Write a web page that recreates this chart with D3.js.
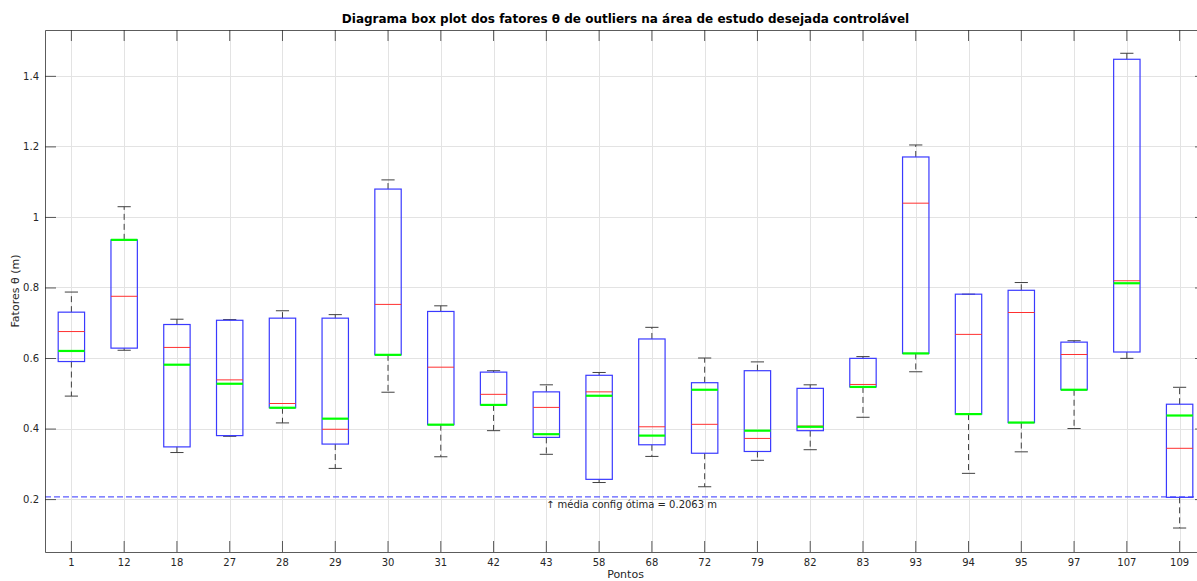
<!DOCTYPE html>
<html>
<head>
<meta charset="utf-8">
<script src="https://cdn.jsdelivr.net/npm/d3@7"></script>
<style>
  html, body { margin: 0; padding: 0; background: #fff; }
  svg { display: block; font-family: "DejaVu Sans", sans-serif; }
</style>
</head>
<body>
<svg id="chart" width="1197" height="581"></svg>
<script>
// Pontos e estatísticas de cada caixa (fatores θ em metros)
const pontos = ["1","12","18","27","28","29","30","31","42","43","58","68","72","79","82","83","93","94","95","97","107","109"];
const limiteInferior = [0.492,0.622,0.332,0.378,0.416,0.287,0.503,0.320,0.394,0.327,0.247,0.321,0.235,0.310,0.340,0.432,0.561,0.273,0.334,0.400,0.599,0.118];
const quartil1       = [0.590,0.628,0.348,0.380,0.459,0.356,0.609,0.411,0.467,0.375,0.256,0.354,0.330,0.335,0.394,0.518,0.613,0.441,0.417,0.510,0.617,0.205];
const mediana        = [0.675,0.775,0.630,0.538,0.471,0.398,0.752,0.574,0.497,0.460,0.504,0.405,0.412,0.372,0.407,0.525,1.039,0.667,0.729,0.610,0.819,0.344];
const configOtima    = [0.620,0.935,0.581,0.527,0.459,0.428,0.609,0.411,0.467,0.384,0.493,0.380,0.510,0.394,0.405,0.518,0.613,0.441,0.417,0.510,0.812,0.437];
const quartil3       = [0.730,0.935,0.695,0.707,0.713,0.713,1.079,0.732,0.560,0.504,0.551,0.654,0.530,0.564,0.514,0.599,1.170,0.781,0.792,0.645,1.447,0.469];
const limiteSuperior = [0.787,1.029,0.710,0.709,0.734,0.723,1.105,0.748,0.564,0.524,0.559,0.687,0.600,0.589,0.524,0.604,1.204,0.781,0.814,0.649,1.464,0.517];
const mediaConfigOtima = 0.2063;
const yTicks = [0.2, 0.4, 0.6, 0.8, 1, 1.2, 1.4];

const titulo = "Diagrama box plot dos fatores θ de outliers na área de estudo desejada controlável";
const rotuloX = "Pontos";
const rotuloY = "Fatores θ (m)";
const anotacao = "↑ média config ótima = " + mediaConfigOtima + " m";

const svg = d3.select("#chart");
const plotLeft = 45, plotRight = 1206, plotTop = 30, plotBottom = 552;
const axisColor = "#262626";
const tickLen = 11;

const x = d3.scaleBand().domain(pontos).range([plotLeft, plotRight]).padding(0);
const cx = p => x(p) + x.bandwidth() / 2;
const y = d3.scaleLinear().domain([0.05, 1.53]).range([plotBottom, plotTop]);

const boxW = x.bandwidth() * 0.5;
const capW = x.bandwidth() * 0.25;

// grade
const grid = svg.append("g").attr("stroke", "#e3e3e3").attr("stroke-width", 1);
grid.selectAll("line.gx").data(pontos).join("line").attr("class", "gx")
  .attr("x1", d => Math.round(cx(d)) + 0.5).attr("x2", d => Math.round(cx(d)) + 0.5)
  .attr("y1", plotTop).attr("y2", plotBottom);
grid.selectAll("line.gy").data(yTicks).join("line").attr("class", "gy")
  .attr("y1", d => Math.round(y(d)) + 0.5).attr("y2", d => Math.round(y(d)) + 0.5)
  .attr("x1", plotLeft).attr("x2", plotRight);

// linha da média da configuração ótima
svg.append("line")
  .attr("x1", plotLeft).attr("x2", plotRight)
  .attr("y1", y(mediaConfigOtima)).attr("y2", y(mediaConfigOtima))
  .attr("stroke", "#5c5cff").attr("stroke-width", 1.2)
  .attr("stroke-dasharray", "6,3");

svg.append("text")
  .attr("x", 546).attr("y", 508)
  .attr("font-size", 10).attr("fill", axisColor)
  .text(anotacao);

// caixas
const boxes = svg.append("g").selectAll("g").data(pontos).join("g");

boxes.each(function(p, i) {
  const g = d3.select(this);
  const c = cx(p);
  // bigodes tracejados
  g.append("line").attr("x1", c).attr("x2", c)
    .attr("y1", y(quartil3[i])).attr("y2", y(limiteSuperior[i]))
    .attr("stroke", "#404040").attr("stroke-width", 1).attr("stroke-dasharray", "6,4");
  g.append("line").attr("x1", c).attr("x2", c)
    .attr("y1", y(quartil1[i])).attr("y2", y(limiteInferior[i]))
    .attr("stroke", "#404040").attr("stroke-width", 1).attr("stroke-dasharray", "6,4");
  // extremos
  [limiteSuperior[i], limiteInferior[i]].forEach(v => {
    g.append("line").attr("x1", c - capW / 2).attr("x2", c + capW / 2)
      .attr("y1", y(v)).attr("y2", y(v))
      .attr("stroke", "#404040").attr("stroke-width", 1);
  });
  // caixa
  g.append("rect")
    .attr("x", c - boxW / 2).attr("width", boxW)
    .attr("y", y(quartil3[i])).attr("height", y(quartil1[i]) - y(quartil3[i]))
    .attr("fill", "none").attr("stroke", "#3a3aff").attr("stroke-width", 1.2);
  // mediana
  g.append("line").attr("x1", c - boxW / 2).attr("x2", c + boxW / 2)
    .attr("y1", y(mediana[i])).attr("y2", y(mediana[i]))
    .attr("stroke", "#ff3030").attr("stroke-width", 1);
  // valor da configuração ótima
  g.append("line").attr("x1", c - boxW / 2).attr("x2", c + boxW / 2)
    .attr("y1", y(configOtima[i])).attr("y2", y(configOtima[i]))
    .attr("stroke", "#00ff00").attr("stroke-width", 2.2);
});

// eixos
const xAxisB = d3.axisBottom(x).tickSizeInner(-tickLen).tickSizeOuter(0).tickPadding(7);
const gxb = svg.append("g").attr("transform", `translate(0,${plotBottom})`).call(xAxisB);
const xAxisT = d3.axisTop(x).tickSizeInner(-tickLen).tickSizeOuter(0).tickFormat("");
const gxt = svg.append("g").attr("transform", `translate(0,${plotTop})`).call(xAxisT);
const yAxisL = d3.axisLeft(y).tickValues(yTicks).tickSizeInner(-tickLen).tickSizeOuter(0).tickPadding(6)
  .tickFormat(d => String(d));
const gyl = svg.append("g").attr("transform", `translate(${plotLeft},0)`).call(yAxisL);
const yAxisR = d3.axisRight(y).tickValues(yTicks).tickSizeInner(-tickLen).tickSizeOuter(0).tickFormat("");
const gyr = svg.append("g").attr("transform", `translate(${plotRight},0)`).call(yAxisR);

[gxb, gxt, gyl, gyr].forEach(g => {
  g.select(".domain").attr("stroke", axisColor).attr("stroke-opacity", 0.75).attr("stroke-width", 1);
  g.selectAll(".tick line").attr("stroke", axisColor).attr("stroke-opacity", 0.75);
  g.selectAll(".tick text").attr("fill", axisColor).attr("font-size", 10)
    .attr("font-family", "DejaVu Sans, sans-serif");
});

// títulos
svg.append("text")
  .attr("x", (plotLeft + plotRight) / 2).attr("y", 23)
  .attr("text-anchor", "middle").attr("font-weight", "bold").attr("font-size", 12)
  .attr("fill", "#000").text(titulo);

svg.append("text")
  .attr("x", (plotLeft + plotRight) / 2).attr("y", 578)
  .attr("text-anchor", "middle").attr("font-size", 11)
  .attr("fill", axisColor).text(rotuloX);

svg.append("text")
  .attr("transform", `translate(19,${(plotTop + plotBottom) / 2}) rotate(-90)`)
  .attr("text-anchor", "middle").attr("font-size", 11)
  .attr("fill", axisColor).text(rotuloY);
</script>
</body>
</html>
